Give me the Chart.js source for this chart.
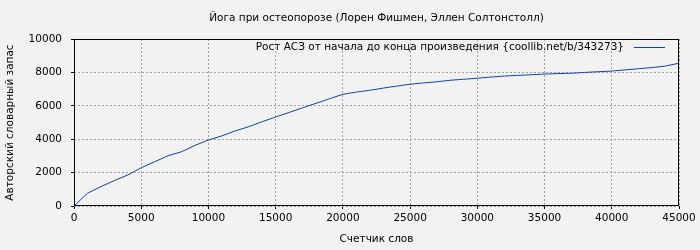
<!DOCTYPE html>
<html>
<head>
<meta charset="utf-8">
<script src="https://cdn.jsdelivr.net/npm/chart.js@4"></script>
<style>
  html, body { margin: 0; padding: 0; background: #f2f2f2; }
  #wrap { width: 700px; height: 250px; }
</style>
</head>
<body>
<div id="wrap"><canvas id="chart" width="700" height="250"></canvas></div>
<script>
// Данные
const words = [0, 1000, 2000, 3000, 4000, 5000, 6000, 7000, 8000, 9000, 10000,
  11000, 12000, 13000, 14000, 15000, 16000, 17000, 18000, 19000, 20000,
  21000, 22000, 23000, 24000, 25000, 26000, 27000, 28000, 29000, 30000,
  31000, 32000, 33000, 34000, 35000, 36000, 37000, 38000, 39000, 40000,
  41000, 42000, 43000, 44000, 45000];
const vocab = [0, 760, 1160, 1520, 1860, 2290, 2650, 3010, 3250, 3630, 3950,
  4200, 4500, 4750, 5050, 5330, 5600, 5880, 6150, 6420, 6690,
  6820, 6930, 7060, 7180, 7290, 7370, 7440, 7530, 7590, 7650,
  7720, 7780, 7820, 7860, 7900, 7930, 7950, 8000, 8040, 8080,
  8150, 8220, 8290, 8380, 8550];
const xTicks = [0, 5000, 10000, 15000, 20000, 25000, 30000, 35000, 40000, 45000];
const yTicks = [0, 2000, 4000, 6000, 8000, 10000];

const title = 'Йога при остеопорозе (Лорен Фишмен, Эллен Солтонстолл)';
const seriesName = 'Рост АСЗ от начала до конца произведения {coollib.net/b/343273}';
const lineColor = '#1044b0';
const FONT = '"DejaVu Sans", sans-serif';
const FS = 10.5;

// заголовок, легенда и рамка
const decor = {
  id: 'decor',
  afterDraw(chart) {
    const { ctx, chartArea: a } = chart;
    ctx.save();
    ctx.fillStyle = '#000';
    ctx.font = FS + 'px ' + FONT;
    ctx.textAlign = 'center';
    ctx.textBaseline = 'middle';
    ctx.fillText(title, (a.left + a.right) / 2, 18);

    ctx.textAlign = 'right';
    ctx.fillText(seriesName, a.right - 55, a.top + 8);
    ctx.strokeStyle = lineColor;
    ctx.lineWidth = 1;
    ctx.beginPath();
    ctx.moveTo(a.right - 45, a.top + 8.5);
    ctx.lineTo(a.right - 14, a.top + 8.5);
    ctx.stroke();

    ctx.strokeStyle = '#000';
    ctx.lineWidth = 1;
    ctx.strokeRect(a.left + 0.5, a.top + 0.5, a.right - a.left - 1, a.bottom - a.top - 1);
    ctx.restore();
  }
};

const gridOpts = {
  color: '#a0a0a0',
  lineWidth: 1,
  tickColor: '#000',
  tickLength: 3,
  tickBorderDash: []
};
const borderOpts = { display: false, dash: [2, 2] };
const tickFont = { family: FONT, size: FS };

new Chart(document.getElementById('chart'), {
  type: 'line',
  data: {
    datasets: [{
      label: seriesName,
      data: words.map((w, i) => ({ x: w, y: vocab[i] })),
      borderColor: lineColor,
      borderWidth: 1,
      pointRadius: 0,
      fill: false,
      tension: 0
    }]
  },
  options: {
    responsive: false,
    animation: false,
    layout: { padding: { top: 39, right: 21, left: 0, bottom: 0 } },
    plugins: {
      legend: { display: false },
      title: { display: false },
      tooltip: { enabled: false }
    },
    scales: {
      x: {
        type: 'linear',
        min: 0,
        max: 45000,
        afterBuildTicks: s => { s.ticks = xTicks.map(v => ({ value: v })); },
        afterFit: s => { s.height = 44; },
        grid: gridOpts,
        border: borderOpts,
        ticks: { color: '#000', font: tickFont, padding: 3, maxRotation: 0, autoSkip: false,
          callback: v => String(v) },
        title: { display: true, text: 'Счетчик слов', color: '#000', font: tickFont, padding: 4 }
      },
      y: {
        min: 0,
        max: 10000,
        afterBuildTicks: s => { s.ticks = yTicks.map(v => ({ value: v })); },
        afterFit: s => { s.width = 74; },
        grid: gridOpts,
        border: borderOpts,
        ticks: { color: '#000', font: tickFont, padding: 9, autoSkip: false,
          callback: v => String(v) },
        title: { display: true, text: 'Авторский словарный запас', color: '#000', font: tickFont, padding: 4 }
      }
    }
  },
  plugins: [decor]
});
</script>
</body>
</html>
